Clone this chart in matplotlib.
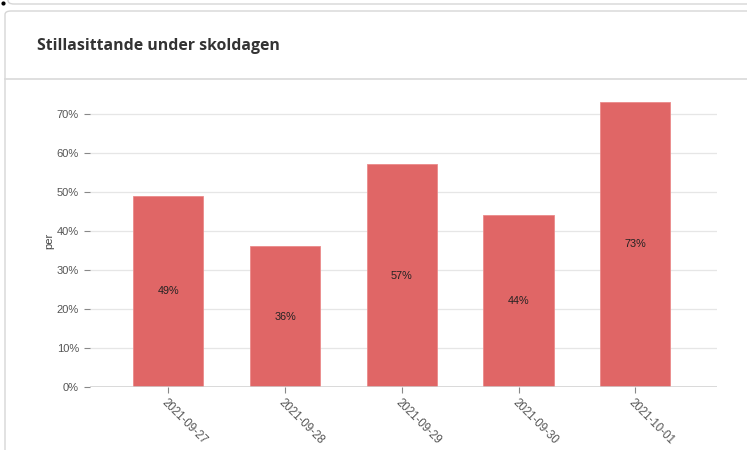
import matplotlib
matplotlib.use("Agg")
import matplotlib.pyplot as plt
from matplotlib.patches import FancyBboxPatch
from matplotlib.lines import Line2D

# data
dates = ["2021-09-27", "2021-09-28", "2021-09-29", "2021-09-30", "2021-10-01"]
values = [0.49, 0.36, 0.57, 0.44, 0.73]
yticks = [0, 0.1, 0.2, 0.3, 0.4, 0.5, 0.6, 0.7]

plt.rcParams["font.family"] = ["Liberation Sans", "DejaVu Sans"]

W, H = 747, 450
fig = plt.figure(figsize=(W / 100, H / 100), dpi=100)
fig.patch.set_facecolor("white")

def fx(px):
    return px / W

def fy(py):
    return 1 - py / H

# card frames (behind the axes)
fig.add_artist(FancyBboxPatch((fx(8), fy(4)), fx(760), 0.05,
                              boxstyle="round,pad=0,rounding_size=0.008",
                              transform=fig.transFigure, fc="white", ec="#d6d6d6",
                              lw=1, zorder=-10))
fig.add_artist(FancyBboxPatch((fx(5), fy(470)), fx(760), fy(11) - fy(470),
                              boxstyle="round,pad=0,rounding_size=0.008",
                              transform=fig.transFigure, fc="white", ec="#d6d6d6",
                              lw=1, zorder=-9))
fig.add_artist(Line2D([fx(5), 1], [fy(79), fy(79)], transform=fig.transFigure,
                      color="#d9d9d9", lw=1.2, zorder=-8))
fig.add_artist(Line2D([fx(3)], [fy(3)], transform=fig.transFigure, marker="o",
                      ms=2, color="black"))

fig.text(fx(37), fy(46), "Stillasittande under skoldagen", fontsize=11.4,
         fontweight="bold", family="Open Sans", color="#333333", va="center", ha="left")

ax = fig.add_axes([fx(90), fy(387), fx(717) - fx(90), fy(94) - fy(387)])
ax.set_zorder(5)
ax.patch.set_alpha(0)
x = list(range(len(dates)))
ax.bar(x, values, width=0.6, color="#e06666", edgecolor="#eb8a8a", lw=0.6, zorder=3)
for xi, v in zip(x, values):
    ax.text(xi, v / 2, f"{round(v * 100)}%", ha="center", va="center",
            fontsize=7.8, color="#222222", zorder=4)

ax.set_xlim(-0.67, 4.70)
ax.set_ylim(0, 0.75)
ax.set_yticks(yticks)
ax.set_yticklabels([f"{round(t * 100)}%" for t in yticks])
ax.set_xticks(x)
ax.set_xticklabels(dates, rotation=-45, ha="left", va="top", rotation_mode="anchor")
ax.grid(axis="y", color="#e6e6e6", lw=0.9, zorder=0)
for s in ax.spines.values():
    s.set_visible(False)
ax.axhline(0, color="#d0d0d0", lw=1.1, zorder=6)
ax.tick_params(axis="y", length=4, color="#888888", labelsize=8, labelcolor="#555555", pad=4)
ax.tick_params(axis="x", length=4, color="#888888", labelsize=8.3, labelcolor="#555555", pad=3)
ax.set_ylabel("per", fontsize=8, color="#444444", labelpad=2)

fig.savefig("out.png", dpi=100)
